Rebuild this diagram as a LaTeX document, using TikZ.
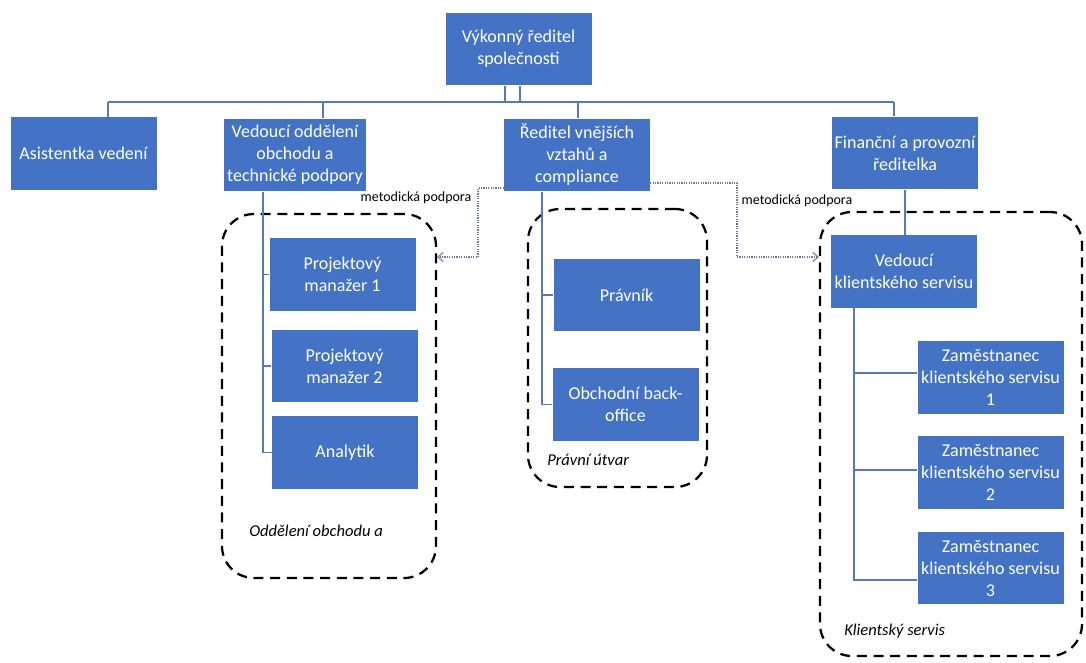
\documentclass[tikz,border=0pt]{standalone}
\usepackage{fontspec}
\setmainfont{Carlito}
\usetikzlibrary{arrows.meta}
\definecolor{boxblue}{RGB}{68,114,196}
\definecolor{linec}{RGB}{88,122,178}
\definecolor{dotc}{RGB}{105,125,160}
\begin{document}
\begin{tikzpicture}[x=0.75pt,y=-0.75pt,
  orgbox/.style={fill=boxblue, text=white, align=center, inner sep=1pt,
    minimum width=109.5pt, minimum height=54.5pt,
    font=\fontsize{13.5}{16.5}\selectfont},
  grp/.style={draw=black, line width=1.7pt, dash pattern=on 7.5pt off 5pt,
    rounded corners=24pt, inner sep=0pt},
  conn/.style={draw=linec, line width=0.8pt},
  meth/.style={draw=dotc, line width=0.8pt, densely dotted,
    -{Straight Barb[length=4pt,width=7pt]}},
  lbl/.style={inner sep=0pt, font=\fontsize{10.5}{12}\selectfont},
  glbl/.style={inner sep=0pt, anchor=west, font=\fontsize{12.4}{14}\selectfont\itshape}]
\useasboundingbox (0,0) rectangle (1086,662);
\fill[white] (0,0) rectangle (1086,662);

% groups
\node[grp, minimum width=160.5pt, minimum height=273pt] (g1) at (329,396) {};
\node[grp, minimum width=134.25pt, minimum height=208.5pt] (g2) at (617.5,348) {};
\node[grp, minimum width=196.5pt, minimum height=333pt] (g3) at (951,434) {};

% boxes
\node[orgbox] (ceo) at (518.5,49) {Výkonný ředitel\\společnosti};
\node[orgbox] (asist) at (83.5,153.5) {Asistentka vedení};
\node[orgbox, minimum width=106.5pt] (vobch) at (295,155) {Vedoucí oddělení\\obchodu a\\technické podpory};
\node[orgbox] (redvz) at (577,155) {Ředitel vnějších\\vztahů a\\compliance};
\node[orgbox] (fin) at (905,153) {Finanční a provozní\\ředitelka};
\node[orgbox] (pm1) at (342.5,274.5) {Projektový\\manažer 1};
\node[orgbox] (pm2) at (344.5,366) {Projektový\\manažer 2};
\node[orgbox] (anal) at (345,452.5) {Analytik};
\node[orgbox] (pravnik) at (626.5,295) {Právník};
\node[orgbox] (backoff) at (625.5,404.5) {Obchodní back-\\office};
\node[orgbox] (vks) at (904,271.5) {Vedoucí\\klientského servisu};
\node[orgbox] (z1) at (990.5,377.5) {Zaměstnanec\\klientského servisu\\1};
\node[orgbox] (z2) at (990.5,472.5) {Zaměstnanec\\klientského servisu\\2};
\node[orgbox] (z3) at (990.5,568) {Zaměstnanec\\klientského servisu\\3};

% top tree
\coordinate (busL) at (108,102);
\coordinate (busR) at (894,102);
\coordinate (t1) at (505,102);
\coordinate (t2) at (520,102);
\coordinate (b2) at (323,102);
\coordinate (b3) at (578,102);
\draw[conn] (busL) -- (busR);
\draw[conn] (t1) -- (t1 |- ceo.south);
\draw[conn] (t2) -- (t2 |- ceo.south);
\draw[conn] (busL) -- (busL |- asist.north);
\draw[conn] (b2) -- (b2 |- vobch.north);
\draw[conn] (b3) -- (b3 |- redvz.north);
\draw[conn] (busR) -- (busR |- fin.north);

% group 1 tree
\coordinate (v1) at (263,0);
\draw[conn] (v1 |- vobch.south) -- (v1 |- anal.west) -- (anal.west);
\draw[conn] (v1 |- pm1.west) -- (pm1.west);
\draw[conn] (v1 |- pm2.west) -- (pm2.west);

% group 2 tree
\coordinate (v2) at (542,0);
\draw[conn] (v2 |- redvz.south) -- (v2 |- backoff.west) -- (backoff.west);
\draw[conn] (v2 |- pravnik.west) -- (pravnik.west);

% group 3 tree
\draw[conn] (fin.south) -- (fin.south |- vks.north);
\coordinate (v3) at (854,0);
\coordinate (c3) at (854,580);
\coordinate (c1) at (854,373);
\coordinate (c2) at (854,470);
\draw[conn] (v3 |- vks.south) -- (c3) -- (c3 -| z3.west);
\draw[conn] (c1) -- (c1 -| z1.west);
\draw[conn] (c2) -- (c2 -| z2.west);

% methodical support arrows
\coordinate (m1) at (478,188);
\coordinate (a1) at (478,257);
\draw[meth] (m1 -| redvz.west) -- (m1) -- (a1) -- (a1 -| g1.east);
\coordinate (m2) at (737,183);
\coordinate (a2) at (737,257);
\draw[meth] (m2 -| redvz.east) -- (m2) -- (a2) -- (a2 -| g3.west);

\node[lbl] (ml1) at (416,198) {metodická podpora};
\node[lbl] (ml2) at (797,201) {metodická podpora};

\node[glbl] (gl1) at (249,531) {Oddělení obchodu a};
\node[glbl] (gl2) at (547,460) {Právní útvar};
\node[glbl] (gl3) at (844,631) {Klientský servis};
\end{tikzpicture}
\end{document}
